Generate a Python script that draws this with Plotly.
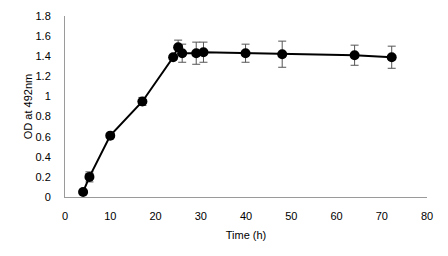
import plotly.graph_objects as go

time_h = [4.0, 5.4, 10.0, 17.1, 23.9, 25.0, 25.9, 29.0, 30.6, 39.9, 48.0, 64.0, 72.2]
od492 = [0.05, 0.20, 0.61, 0.95, 1.39, 1.49, 1.43, 1.43, 1.44, 1.43, 1.42, 1.41, 1.39]
od_err = [0.01, 0.05, 0.02, 0.04, 0.02, 0.07, 0.09, 0.11, 0.10, 0.09, 0.13, 0.10, 0.11]

x_ticks = [0, 10, 20, 30, 40, 50, 60, 70, 80]
y_ticks = [0, 0.2, 0.4, 0.6, 0.8, 1, 1.2, 1.4, 1.6, 1.8]
y_tick_text = ["0", "0.2", "0.4", "0.6", "0.8", "1", "1.2", "1.4", "1.6", "1.8"]

fig = go.Figure()
fig.add_trace(go.Scatter(
    x=time_h, y=od492,
    mode="lines+markers",
    line=dict(color="black", width=2),
    marker=dict(color="black", size=10),
    error_y=dict(type="data", array=od_err, visible=True,
                 color="#555555", thickness=1, width=4),
    showlegend=False,
))

font = dict(family="Liberation Sans, Arial, sans-serif", size=11, color="black")
fig.update_layout(
    width=448, height=256,
    margin=dict(l=65, r=21, t=16, b=59),
    paper_bgcolor="white", plot_bgcolor="white",
    font=font,
    xaxis=dict(range=[0, 80], tickvals=x_ticks, showgrid=False, zeroline=False,
               showline=True, linecolor="#9a9a9a", linewidth=1, ticks="",
               ticklabelstandoff=9, automargin=False,
               title=dict(text="Time (h)", font=font, standoff=10)),
    yaxis=dict(range=[0, 1.8], tickvals=y_ticks, ticktext=y_tick_text,
               showgrid=False, zeroline=False,
               showline=True, linecolor="#9a9a9a", linewidth=1, ticks="",
               ticklabelstandoff=11, automargin=False,
               title=dict(text="OD at 492nm", font=font, standoff=0)),
)
fig.write_html("out.html", config={"displayModeBar": False},
               post_script="document.body.style.margin='0';document.body.style.padding='0';")
